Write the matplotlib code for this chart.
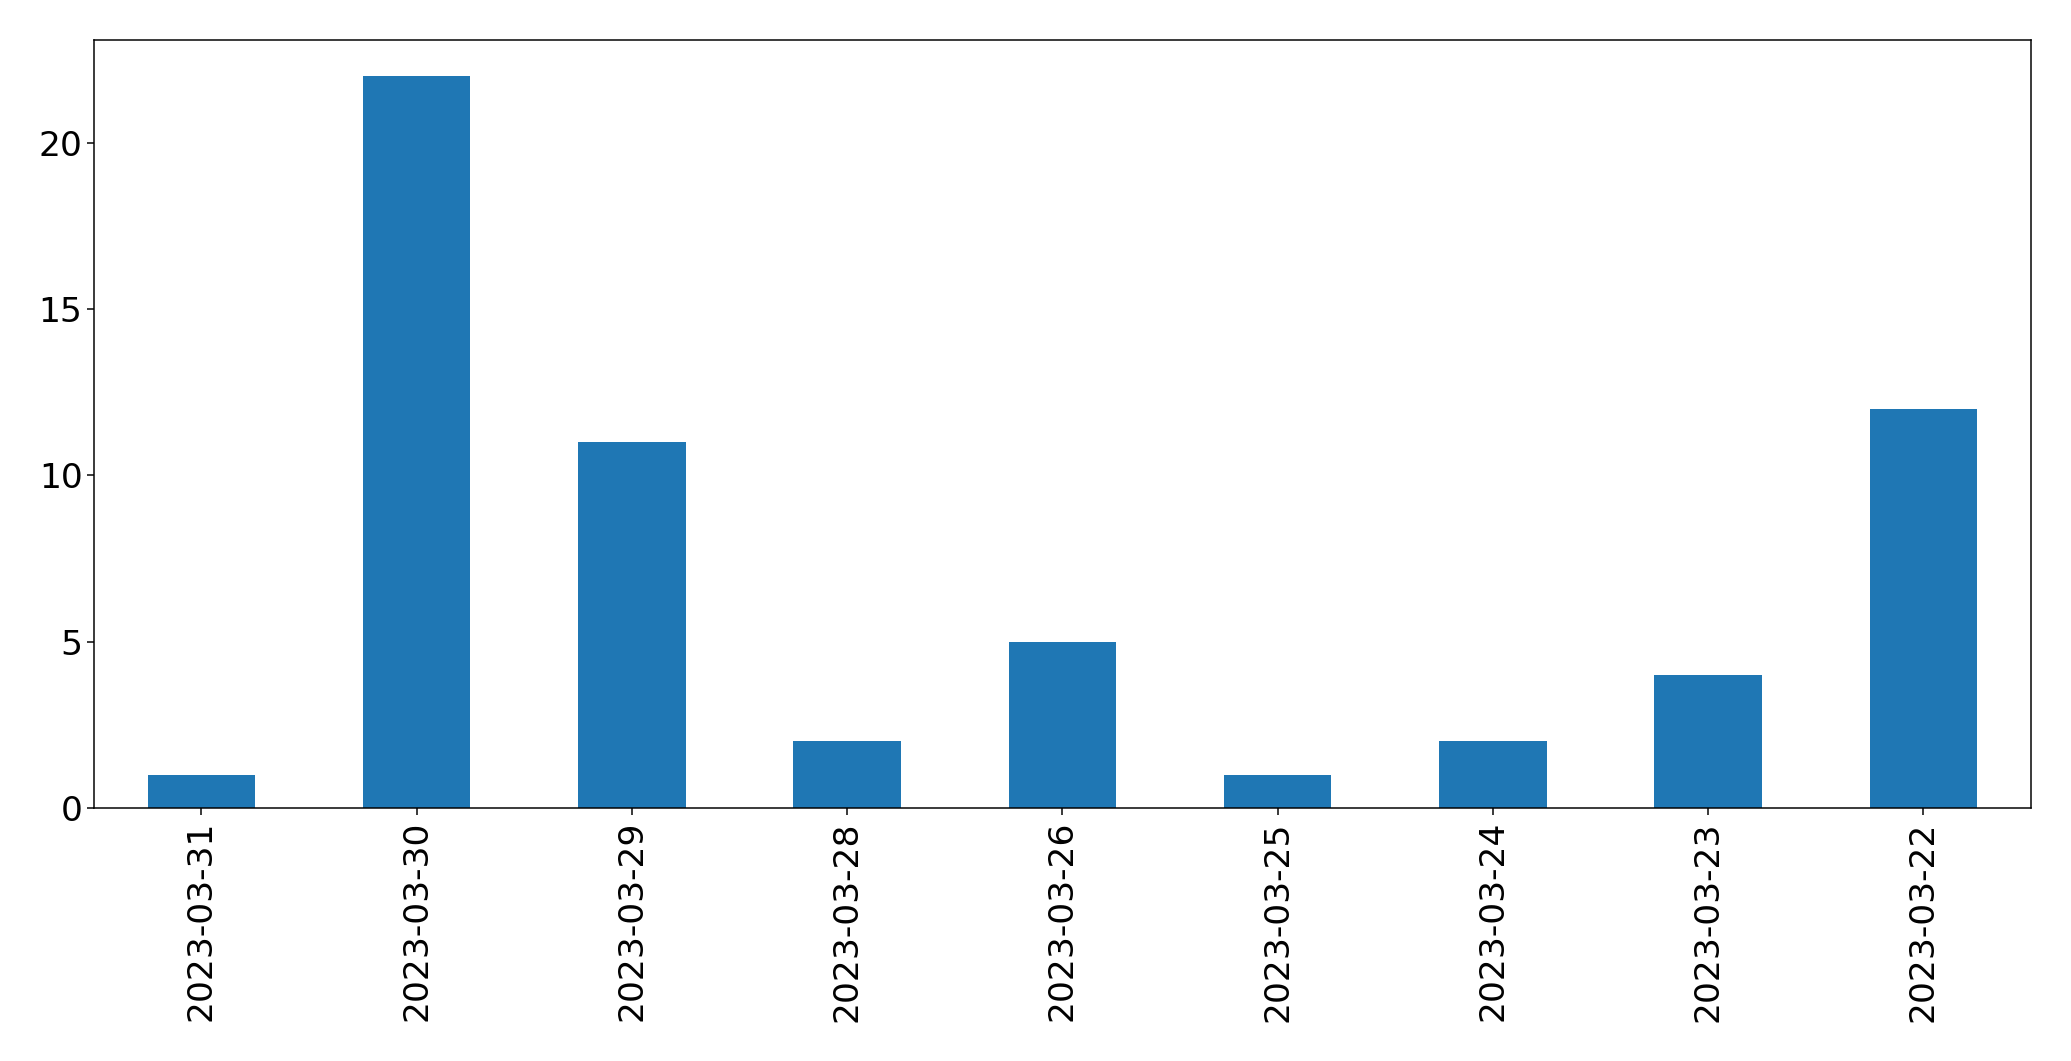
import matplotlib
matplotlib.use("Agg")
import matplotlib.pyplot as plt

dates = ["2023-03-31", "2023-03-30", "2023-03-29", "2023-03-28", "2023-03-26",
         "2023-03-25", "2023-03-24", "2023-03-23", "2023-03-22"]
counts = [1, 22, 11, 2, 5, 1, 2, 4, 12]

dpi = 135
fig = plt.figure(figsize=(2071 / dpi, 1061 / dpi), dpi=dpi)
ax = fig.add_axes([0.0453, 0.2385, 0.9354, 0.7242])
x = range(len(dates))
ax.bar(x, counts, width=0.5, color="#1f77b4")
ax.set_xlim(-0.5, len(dates) - 0.5)
ax.set_xticks(list(x))
ax.set_xticklabels(dates, rotation=90, fontsize=18.4)
ax.tick_params(axis="y", labelsize=18.4, pad=2.5)
fig.savefig("out.png", dpi=dpi)
